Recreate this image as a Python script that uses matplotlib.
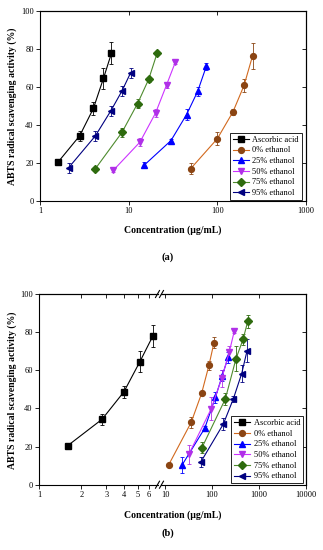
import matplotlib
matplotlib.use('Agg')
import matplotlib.pyplot as plt
from matplotlib.lines import Line2D
from matplotlib.ticker import NullLocator

plt.rcParams['font.family'] = ['Liberation Serif', 'DejaVu Serif']

labels = ['Ascorbic acid', '0% ethanol', '25% ethanol', '50% ethanol', '75% ethanol', '95% ethanol']
markers = ['s', 'o', '^', 'v', 'D', '<']
line_colors = ['black', '#D2691E', '#0000FF', '#CC33FF', '#4E8B2E', '#000080']
mark_colors = ['black', '#8B4513', '#0000FF', '#B030E8', '#2E6B0E', '#000080']

# ascorbic acid (same in both panels)
asc_x = [1.6, 2.8, 4.0, 5.2, 6.4]
asc_y = [20.5, 34.3, 48.7, 64.6, 77.8]
asc_e = [1.0, 2.8, 3.2, 5.6, 5.8]

# panel (a)
a0_x = [50, 100, 150, 200, 250]
a0_y = [17.0, 32.8, 46.9, 60.8, 76.5]
a0_e = [3.0, 3.5, 1.5, 3.5, 6.8]
a25_x = [15, 30, 45, 60, 75]
a25_y = [18.9, 31.8, 45.5, 57.7, 70.8]
a25_e = [1.5, 1.0, 2.8, 2.5, 2.0]
a50_x = [6.7, 13.4, 20.1, 26.8, 33.5]
a50_y = [16.1, 31.0, 46.3, 61.2, 72.9]
a50_e = [1.0, 2.0, 2.2, 1.5, 1.0]
a75_x = [4.2, 8.4, 12.6, 16.8, 21.0]
a75_y = [16.9, 36.1, 51.3, 64.0, 78.0]
a75_e = [1.0, 2.5, 2.5, 1.5, 1.0]
a95_x = [2.1, 4.2, 6.3, 8.4, 10.5]
a95_y = [17.5, 34.2, 47.5, 57.9, 67.4]
a95_e = [2.5, 2.5, 2.5, 2.5, 2.5]

# panel (b)
b0_x = [12, 36, 60, 86, 110]
b0_y = [10.5, 32.7, 47.9, 62.6, 74.5]
b0_e = [0.5, 2.8, 0.8, 2.2, 2.8]
b25_x = [23, 70, 118, 165, 220]
b25_y = [10.3, 29.6, 45.8, 57.2, 66.8]
b25_e = [4.0, 1.0, 3.0, 3.0, 3.0]
b50_x = [32, 96, 161, 232, 298]
b50_y = [15.9, 39.8, 55.8, 69.4, 80.6]
b50_e = [5.0, 6.0, 4.5, 3.5, 1.0]
b75_x = [61, 192, 324, 457, 575]
b75_y = [19.4, 45.0, 66.1, 76.2, 85.6]
b75_e = [3.0, 3.0, 6.5, 3.0, 3.5]
b95_x = [58, 174, 284, 428, 556]
b95_y = [12.0, 31.8, 45.0, 58.3, 70.2]
b95_e = [2.5, 3.0, 1.5, 4.5, 6.0]

yticks = [0, 20, 40, 60, 80, 100]


def draw(ax, x, y, e, i):
    ax.errorbar(x, y, yerr=e, fmt='none', ecolor=mark_colors[i], elinewidth=0.6,
                capsize=1.6, capthick=0.6, zorder=2)
    h, = ax.plot(x, y, color=line_colors[i], lw=0.8, marker=markers[i],
                 ms=4.2 if markers[i] != 'D' else 3.6, mfc=mark_colors[i],
                 mec=mark_colors[i], label=labels[i], zorder=3)
    return h


def style(ax, xticks, xlabels, xlim, left=True, right=True):
    ax.set_xscale('log')
    ax.set_xlim(*xlim)
    ax.set_ylim(0, 100)
    ax.set_xticks(xticks)
    ax.set_xticklabels(xlabels)
    ax.xaxis.set_minor_locator(NullLocator())
    ax.set_yticks(yticks)
    ax.tick_params(direction='out', length=3, width=0.6, labelsize=6, pad=1.5)
    for s in ax.spines.values():
        s.set_linewidth(0.8)
    top = ax.secondary_xaxis('top')
    top.set_xticks(xticks)
    top.set_xticklabels([])
    top.xaxis.set_minor_locator(NullLocator())
    top.tick_params(direction='in', length=3, width=0.6)
    top.spines['top'].set_linewidth(0.8)
    if left:
        pass
    else:
        ax.spines['left'].set_visible(False)
        ax.tick_params(left=False, labelleft=False)
    if right:
        r = ax.secondary_yaxis('right')
        r.set_yticks(yticks)
        r.set_yticklabels([])
        r.tick_params(direction='in', length=3, width=0.6)
        r.spines['right'].set_linewidth(0.8)
    else:
        ax.spines['right'].set_visible(False)


def legend(ax, handles, anchor):
    leg = ax.legend(handles=handles, loc='lower right', bbox_to_anchor=anchor,
                    borderaxespad=0, fontsize=6, frameon=True, fancybox=False,
                    edgecolor='black', framealpha=1, handlelength=1.9,
                    handletextpad=0.4, labelspacing=0.32, borderpad=0.35)
    leg.get_frame().set_linewidth(0.6)


W, H = 323, 550
fig = plt.figure(figsize=(W / 100, H / 100), dpi=100)

# ---- panel (a)
ax = fig.add_axes([40 / W, 1 - 201 / H, 266 / W, 190 / H])
style(ax, [1, 10, 100, 1000], ['1', '10', '100', '1000'], (1, 1000))
hs = [draw(ax, asc_x, asc_y, asc_e, 0),
      draw(ax, a0_x, a0_y, a0_e, 1),
      draw(ax, a25_x, a25_y, a25_e, 2),
      draw(ax, a50_x, a50_y, a50_e, 3),
      draw(ax, a75_x, a75_y, a75_e, 4),
      draw(ax, a95_x, a95_y, a95_e, 5)]
legend(ax, hs, (0.985, 0.005))
fig.text(12 / W, 1 - 106 / H, 'ABTS radical scavenging activity (%)', rotation=90,
         ha='center', va='center', fontsize=7, fontweight='bold')
fig.text(173 / W, 1 - 230 / H, 'Concentration (μg/mL)', ha='center', va='center',
         fontsize=7, fontweight='bold')
fig.text(168 / W, 1 - 257 / H, '(a)', ha='center', va='center', fontsize=7.5,
         fontweight='bold')

# ---- panel (b), broken x axis
bl = fig.add_axes([39 / W, 1 - 484.7 / H, 119 / W, 190.7 / H])
br = fig.add_axes([161 / W, 1 - 484.7 / H, 145 / W, 190.7 / H])
style(bl, [1, 2, 3, 4, 5, 6], ['1', '2', '3', '4', '5', '6'], (1, 6.98), right=False)
style(br, [10, 100, 1000, 10000], ['10', '100', '1000', '10000'], (8.2, 10000), left=False)
h0 = draw(bl, asc_x, asc_y, asc_e, 0)
hs = [h0,
      draw(br, b0_x, b0_y, b0_e, 1),
      draw(br, b25_x, b25_y, b25_e, 2),
      draw(br, b50_x, b50_y, b50_e, 3),
      draw(br, b75_x, b75_y, b75_e, 4),
      draw(br, b95_x, b95_y, b95_e, 5)]
legend(br, hs, (0.98, 0.007))

# break marks
for yy in (294, 484.7):
    for xc in (157.5, 161.5):
        fig.add_artist(Line2D([(xc - 2) / W, (xc + 2) / W],
                              [1 - (yy + 3.5) / H, 1 - (yy - 3.5) / H],
                              color='black', lw=0.8))

fig.text(12 / W, 1 - 390 / H, 'ABTS radical scavenging activity (%)', rotation=90,
         ha='center', va='center', fontsize=7, fontweight='bold')
fig.text(173 / W, 1 - 515 / H, 'Concentration (μg/mL)', ha='center', va='center',
         fontsize=7, fontweight='bold')
fig.text(168 / W, 1 - 533 / H, '(b)', ha='center', va='center', fontsize=7.5,
         fontweight='bold')

fig.savefig('out.png', dpi=100, facecolor='white')
